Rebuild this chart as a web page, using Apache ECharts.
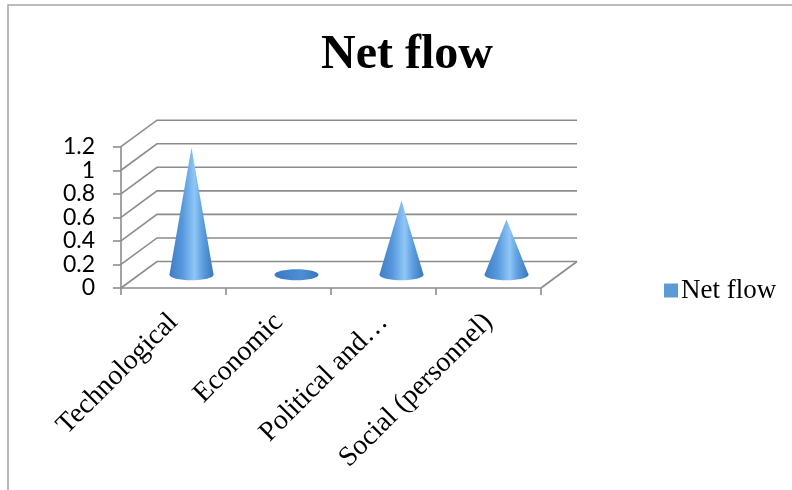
<!DOCTYPE html>
<html>
<head>
<meta charset="utf-8">
<script src="https://cdn.jsdelivr.net/npm/echarts@6/dist/echarts.min.js"></script>
<style>
  html, body { margin: 0; padding: 0; background: #fff; }
  #chart { width: 792px; height: 490px; }
</style>
</head>
<body>
<div id="chart"></div>
<script>
// Chart data
const categories = ['Technological', 'Economic', 'Political and\u2026', 'Social (personnel)'];
const netFlow = [1.08, 0, 0.63, 0.47];
const yTicks = [0, 0.2, 0.4, 0.6, 0.8, 1.0, 1.2];
const seriesName = 'Net flow';

// Depth offset of the back wall relative to the front plane (pixels)
const DX = 36;
const DY = -26.5;
const GRID_COLOR = '#8c8c8c';

const chart = echarts.init(document.getElementById('chart'), null, { renderer: 'canvas' });

function coneGradient() {
  return new echarts.graphic.LinearGradient(0, 0, 1, 0, [
    { offset: 0, color: '#3f7dc4' },
    { offset: 0.3, color: '#5799dc' },
    { offset: 0.57, color: '#8fc6f6' },
    { offset: 0.75, color: '#5e9fe0' },
    { offset: 1, color: '#3b76bb' }
  ]);
}

function discGradient() {
  return new echarts.graphic.LinearGradient(0, 0, 1, 0, [
    { offset: 0, color: '#3a78c0' },
    { offset: 0.6, color: '#4d8fd4' },
    { offset: 1, color: '#3a76bc' }
  ]);
}

// Back wall, left wall and floor lines of the 3D box
function renderWalls(params, api) {
  const v = api.value(1);
  const cs = params.coordSys;
  const y = api.coord([0, v])[1];
  const x0 = cs.x, x1 = cs.x + cs.width;
  const lineStyle = { stroke: GRID_COLOR, lineWidth: 1.6, fill: null };
  const children = [
    { type: 'polyline', shape: { points: [[x0, y], [x0 + DX, y + DY], [x1 + DX, y + DY]] }, style: lineStyle }
  ];
  if (v === 0) {
    children.push({ type: 'line', shape: { x1: x1, y1: y, x2: x1 + DX, y2: y + DY }, style: lineStyle });
  }
  return { type: 'group', children: children };
}

// Cones standing at mid-depth of the box
function renderCone(params, api) {
  const i = api.value(0);
  const v = api.value(1);
  const base = api.coord([i, 0]);
  const top = api.coord([i, v]);
  const band = api.size([1, 0])[0];
  const hw = band * 0.21;
  const cx = base[0] + DX / 2;
  const by = base[1] + DY / 2;
  const ty = top[1] + DY / 2;
  const ry = 5.5;
  const flat = by - ty <= 1;
  const children = [
    { type: 'ellipse', shape: { cx: cx, cy: by, rx: hw, ry: ry }, style: { fill: flat ? discGradient() : coneGradient() } }
  ];
  if (!flat) {
    children.push({
      type: 'polygon',
      shape: { points: [[cx - hw, by], [cx, ty], [cx + hw, by]] },
      style: { fill: coneGradient() }
    });
  }
  return { type: 'group', children: children };
}

const option = {
  backgroundColor: '#ffffff',
  animation: false,
  title: {
    text: 'Net flow',
    left: 316,
    top: 27,
    textStyle: { fontFamily: 'Liberation Serif', fontWeight: 'bold', fontSize: 48, color: '#000' }
  },
  legend: {
    data: [seriesName],
    left: 659,
    top: 272,
    icon: 'rect',
    itemWidth: 14,
    itemHeight: 14,
    itemGap: 8,
    textStyle: { fontFamily: 'Liberation Serif', fontSize: 27, color: '#000', padding: [0, 0, 0, -2] }
  },
  graphic: [
    { type: 'rect', shape: { x: 8, y: 5, width: 900, height: 600 }, style: { fill: null, stroke: '#a6a6a6', lineWidth: 1.5 }, z: -1 }
  ],
  grid: { left: 121, right: 251, top: 146.7, bottom: 202, containLabel: false },
  xAxis: {
    type: 'category',
    data: categories,
    boundaryGap: true,
    axisLine: { show: true, lineStyle: { color: GRID_COLOR, width: 1.6 } },
    axisTick: { show: true, length: 7, interval: 0, lineStyle: { color: GRID_COLOR, width: 1.6 } },
    axisLabel: {
      interval: 0,
      rotate: 45,
      margin: 30,
      fontFamily: 'Liberation Serif',
      fontSize: 28,
      color: '#000'
    },
    splitLine: { show: false }
  },
  yAxis: {
    type: 'value',
    min: 0,
    max: 1.2,
    interval: 0.2,
    axisLine: { show: true, lineStyle: { color: GRID_COLOR, width: 1.6 } },
    axisTick: { show: true, length: 8, lineStyle: { color: GRID_COLOR, width: 1.6 } },
    axisLabel: {
      margin: 26,
      fontFamily: 'Lato',
      fontSize: 23,
      color: '#000',
      formatter: function (v) { return String(Math.round(v * 10) / 10); }
    },
    splitLine: { show: false }
  },
  series: [
    {
      name: 'walls',
      type: 'custom',
      silent: true,
      clip: false,
      z: 1,
      renderItem: renderWalls,
      data: yTicks.map(function (v) { return [0, v]; })
    },
    {
      name: seriesName,
      type: 'custom',
      clip: false,
      z: 3,
      itemStyle: { color: '#5b9bd5' },
      renderItem: renderCone,
      data: netFlow.map(function (v, i) { return [i, v]; })
    }
  ]
};

chart.setOption(option);
</script>
</body>
</html>
